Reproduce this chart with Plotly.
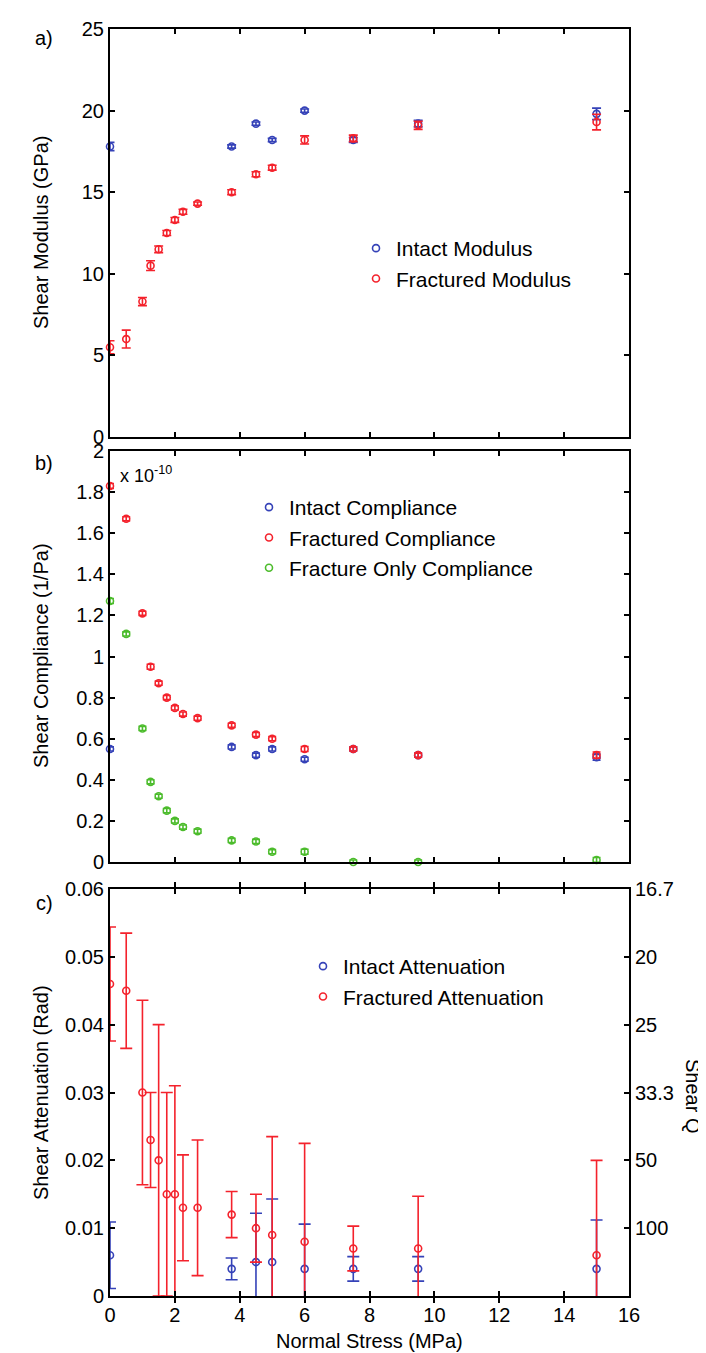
import plotly.graph_objects as go

W, H = 706, 1353

# ---------------- data ----------------
stress_intact = [0, 3.75, 4.5, 5.0, 6.0, 7.5, 9.5, 15.0]
stress_frac = [0, 0.5, 1.0, 1.25, 1.5, 1.75, 2.0, 2.25, 2.7, 3.75, 4.5, 5.0, 6.0, 7.5, 9.5, 15.0]

# a) shear modulus (GPa)
intact_modulus = [17.8, 17.8, 19.2, 18.2, 20.0, 18.2, 19.2, 19.8]
intact_modulus_err = [0.25, 0.1, 0.1, 0.1, 0.1, 0.15, 0.2, 0.35]
frac_modulus = [5.5, 6.0, 8.3, 10.5, 11.5, 12.5, 13.3, 13.8, 14.3, 15.0, 16.1, 16.5, 18.2, 18.3, 19.1, 19.3]
frac_modulus_err = [0.4, 0.55, 0.25, 0.3, 0.2, 0.15, 0.15, 0.15, 0.1, 0.15, 0.15, 0.15, 0.25, 0.2, 0.25, 0.48]

# b) shear compliance (x 1e-10 1/Pa)
intact_comp = [0.55, 0.56, 0.52, 0.55, 0.50, 0.55, 0.52, 0.51]
intact_comp_err = [0.01, 0.01, 0.01, 0.01, 0.01, 0.01, 0.01, 0.015]
frac_comp = [1.83, 1.67, 1.21, 0.95, 0.87, 0.80, 0.75, 0.72, 0.70, 0.665, 0.62, 0.60, 0.55, 0.55, 0.52, 0.52]
frac_comp_err = [0.012, 0.01, 0.01, 0.012, 0.01, 0.01, 0.01, 0.01, 0.01, 0.01, 0.01, 0.01, 0.012, 0.01, 0.01, 0.015]
only_comp = [1.27, 1.11, 0.65, 0.39, 0.32, 0.25, 0.20, 0.17, 0.15, 0.105, 0.10, 0.05, 0.05, 0.0, 0.0, 0.01]
only_comp_err = [0.012, 0.01, 0.01, 0.01, 0.01, 0.01, 0.01, 0.01, 0.01, 0.01, 0.01, 0.01, 0.012, 0.01, 0.01, 0.012]

# c) shear attenuation (rad)
intact_att = [0.006, 0.004, 0.005, 0.005, 0.004, 0.004, 0.004, 0.004]
intact_att_err = [0.0049, 0.0016, 0.0072, 0.0093, 0.0066, 0.0018, 0.0018, 0.0072]
frac_att = [0.046, 0.045, 0.030, 0.023, 0.020, 0.015, 0.015, 0.013, 0.013, 0.012, 0.010, 0.009, 0.008, 0.007, 0.007, 0.006]
frac_att_err = [0.0084, 0.0085, 0.0136, 0.007, 0.020, 0.015, 0.016, 0.0078, 0.010, 0.0034, 0.005, 0.0145, 0.0145, 0.0033, 0.0077, 0.014]

x_ticks = [0, 2, 4, 6, 8, 10, 12, 14, 16]
q_tickvals = [0.01, 0.02, 0.03, 0.04, 0.05, 0.06]
q_ticktext = [("%.1f" % (1.0 / v)).rstrip("0").rstrip(".") for v in q_tickvals]

BLUE = "#3542b8"
RED = "#f4222c"
GREEN = "#4cbc2c"
FONT = "Liberation Sans, Arial, Helvetica, sans-serif"
FS = 20
LFS = 21


def px_x(p):
    return p / W


def px_y(p):
    return 1 - p / H


def trace(x, y, err, color, name, xa, ya, legend, cap, clip=True):
    return go.Scatter(
        x=x, y=y, mode="markers", name=name, xaxis=xa, yaxis=ya, legend=legend,
        cliponaxis=clip,
        marker=dict(symbol="circle-open", size=7, color=color, line=dict(width=1.6, color=color)),
        error_y=dict(type="data", array=err, visible=True, color=color, thickness=1.6, width=cap),
    )


fig = go.Figure()
fig.add_trace(trace(stress_intact, intact_modulus, intact_modulus_err, BLUE, "Intact Modulus", "x", "y", "legend", 4.5, False))
fig.add_trace(trace(stress_frac, frac_modulus, frac_modulus_err, RED, "Fractured Modulus", "x", "y", "legend", 4.5, False))

fig.add_trace(trace(stress_intact, intact_comp, intact_comp_err, BLUE, "Intact Compliance", "x2", "y2", "legend2", 4, False))
fig.add_trace(trace(stress_frac, frac_comp, frac_comp_err, RED, "Fractured Compliance", "x2", "y2", "legend2", 4, False))
fig.add_trace(trace(stress_frac, only_comp, only_comp_err, GREEN, "Fracture Only Compliance", "x2", "y2", "legend2", 4, False))

fig.add_trace(trace(stress_intact, intact_att, intact_att_err, BLUE, "Intact Attenuation", "x3", "y3", "legend3", 6, True))
fig.add_trace(trace(stress_frac, frac_att, frac_att_err, RED, "Fractured Attenuation", "x3", "y3", "legend3", 6, True))

XD = [px_x(102), px_x(621)]
DA = [px_y(429), px_y(21)]
DB = [px_y(854), px_y(443)]
DC = [px_y(1288), px_y(881)]

axis_common = dict(
    showline=True, linecolor="black", linewidth=2, mirror="allticks",
    ticks="inside", ticklen=5, tickwidth=1.5, tickcolor="black",
    showgrid=False, zeroline=False, automargin=False,
    tickfont=dict(family=FONT, size=FS, color="black"),
)


def xax(anchor, show_labels):
    return dict(axis_common, domain=XD, range=[0, 16], tickvals=x_ticks,
                showticklabels=show_labels, anchor=anchor)


legend_common = dict(font=dict(family=FONT, size=LFS, color="black"), bgcolor="rgba(0,0,0,0)",
                     borderwidth=0, itemwidth=30, xanchor="left", yanchor="top",
                     tracegroupgap=0)

fig.update_layout(
    width=W, height=H, autosize=False,
    margin=dict(l=0, r=0, t=0, b=0),
    paper_bgcolor="white", plot_bgcolor="white",
    font=dict(family=FONT, size=FS, color="black"),
    xaxis=xax("y", False),
    yaxis=dict(axis_common, domain=DA, range=[0, 25], dtick=5, anchor="x"),
    xaxis2=xax("y2", False),
    yaxis2=dict(axis_common, domain=DB, range=[0, 2], dtick=0.2, anchor="x2"),
    xaxis3=xax("y3", True),
    yaxis3=dict(axis_common, domain=DC, range=[0, 0.06], dtick=0.01, anchor="x3"),
    yaxis4=dict(axis_common, domain=DC, range=[0, 0.06], overlaying="y3", side="right",
                anchor="x3", tickvals=q_tickvals, ticktext=q_ticktext, mirror=False),
    legend=dict(legend_common, x=px_x(348), y=px_y(220)),
    legend2=dict(legend_common, x=px_x(241), y=px_y(479)),
    legend3=dict(legend_common, x=px_x(295), y=px_y(938)),
    showlegend=True,
)

# invisible trace to activate the right-hand Q axis
fig.add_trace(go.Scatter(x=[None], y=[None], xaxis="x3", yaxis="y4", showlegend=False, hoverinfo="skip"))

ann = []


def text(t, x, y, angle=0, size=FS, xanchor="center"):
    ann.append(dict(text=t, x=px_x(x), y=px_y(y), xref="paper", yref="paper", showarrow=False,
                    textangle=angle, xanchor=xanchor, yanchor="middle",
                    font=dict(family=FONT, size=size, color="black")))


text("a)", 36, 30)
text("b)", 36, 455)
text("c)", 36, 895)
text("Shear Modulus (GPa)", 33, 225, -90)
text("Shear Compliance (1/Pa)", 33, 648, -90)
text("Shear Attenuation (Rad)", 33, 1085, -90)
text("Normal Stress (MPa)", 362, 1333)
text("Shear Q", 685, 1088, 90)
text("x 10<sup>-10</sup>", 110, 466, 0, 18, "left")
fig.update_layout(annotations=ann)

fig.write_html("out.html")
